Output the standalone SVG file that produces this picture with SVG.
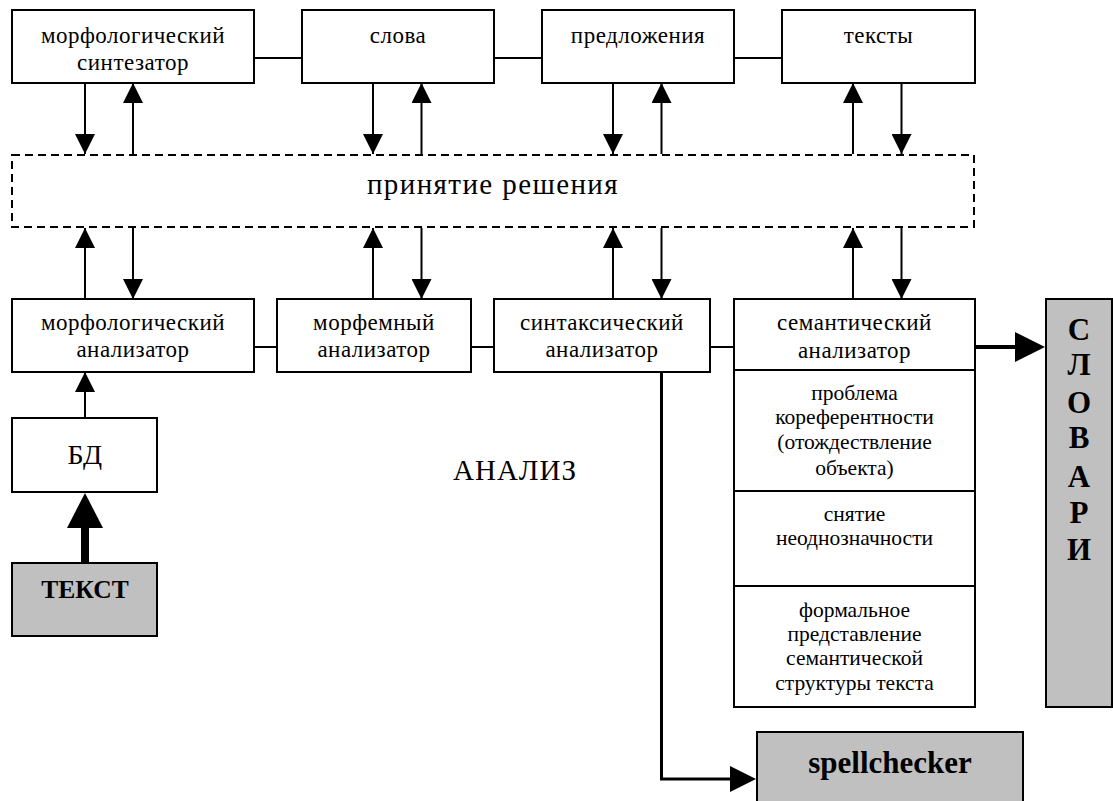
<svg xmlns="http://www.w3.org/2000/svg" width="1113" height="801" viewBox="0 0 1113 801">
<style>
.box{fill:#fff;stroke:#000;stroke-width:2}
.gray{fill:#c0c0c0;stroke:#000;stroke-width:2}
.dash{fill:none;stroke:#000;stroke-width:2;stroke-dasharray:8 5}
text{font-family:"Liberation Serif","Times New Roman",serif;fill:#000}
.t{font-size:23px;letter-spacing:0.5px;text-anchor:middle}
.s{font-size:21.5px;text-anchor:middle}
.b{font-weight:700;text-anchor:middle}
.v{font-weight:700;text-anchor:middle;font-size:31px}
.ln{stroke:#000;stroke-width:2;fill:none}
.ar{stroke:#000;stroke-width:2;fill:none;marker-end:url(#ah)}
</style>
<defs>
<marker id="ah" markerUnits="userSpaceOnUse" markerWidth="20" markerHeight="20" refX="20" refY="10" orient="auto"><path d="M0,0 L20,10 L0,20 z" fill="#000"/></marker>
<marker id="ahBig" markerUnits="userSpaceOnUse" markerWidth="36" markerHeight="36" refX="1" refY="18" orient="auto"><path d="M0,0 L35,18 L0,36 z" fill="#000"/></marker>
<marker id="ahMid" markerUnits="userSpaceOnUse" markerWidth="31" markerHeight="30" refX="1" refY="15" orient="auto"><path d="M0,0 L30,15 L0,30 z" fill="#000"/></marker>
<marker id="ahSm" markerUnits="userSpaceOnUse" markerWidth="27" markerHeight="26" refX="1" refY="13" orient="auto"><path d="M0,0 L26,13 L0,26 z" fill="#000"/></marker>
</defs>

<g id="connectors">
<line class="ln" x1="254" y1="58" x2="302" y2="58"/>
<line class="ln" x1="494" y1="58" x2="542" y2="58"/>
<line class="ln" x1="734" y1="58" x2="782" y2="58"/>
<line class="ln" x1="254" y1="347" x2="277" y2="347"/>
<line class="ln" x1="471" y1="347" x2="494" y2="347"/>
<line class="ln" x1="710" y1="347" x2="734" y2="347"/>
<line class="ar" x1="85" y1="83" x2="85" y2="154"/>
<line class="ar" x1="133" y1="154" x2="133" y2="83"/>
<line class="ar" x1="373" y1="83" x2="373" y2="154"/>
<line class="ar" x1="421.5" y1="154" x2="421.5" y2="83"/>
<line class="ar" x1="613" y1="83" x2="613" y2="154"/>
<line class="ar" x1="661.5" y1="154" x2="661.5" y2="83"/>
<line class="ar" x1="853" y1="154" x2="853" y2="83"/>
<line class="ar" x1="901.5" y1="83" x2="901.5" y2="154"/>
<line class="ar" x1="85" y1="299" x2="85" y2="228"/>
<line class="ar" x1="133" y1="228" x2="133" y2="299"/>
<line class="ar" x1="373" y1="299" x2="373" y2="228"/>
<line class="ar" x1="421.5" y1="228" x2="421.5" y2="299"/>
<line class="ar" x1="613" y1="299" x2="613" y2="228"/>
<line class="ar" x1="661.5" y1="228" x2="661.5" y2="299"/>
<line class="ar" x1="853" y1="299" x2="853" y2="228"/>
<line class="ar" x1="901.5" y1="228" x2="901.5" y2="299"/>
<line class="ar" x1="85" y1="418" x2="85" y2="372"/>
<line x1="85" y1="563" x2="85" y2="527" stroke="#000" stroke-width="8" marker-end="url(#ahBig)"/>
<line x1="975" y1="347" x2="1016" y2="347" stroke="#000" stroke-width="4" marker-end="url(#ahMid)"/>
<path d="M661.5,372 V779 H731" fill="none" stroke="#000" stroke-width="3" marker-end="url(#ahSm)"/>
</g>

<g id="morph-synth"><rect class="box" x="12" y="10" width="242" height="73"/>
<text class="t" x="133" y="43">морфологический</text><text class="t" x="133" y="70">синтезатор</text></g>
<g id="words"><rect class="box" x="302" y="10" width="192" height="73"/>
<text class="t" x="398" y="43">слова</text></g>
<g id="sentences"><rect class="box" x="542" y="10" width="192" height="73"/>
<text class="t" x="638" y="43">предложения</text></g>
<g id="texts"><rect class="box" x="782" y="10" width="193" height="73"/>
<text class="t" x="878.5" y="43">тексты</text></g>

<g id="decision"><rect class="dash" x="12" y="155" width="962" height="72"/>
<text class="t" x="493" y="194" style="font-size:29px;letter-spacing:1.4px">принятие решения</text></g>

<g id="morph-analyzer"><rect class="box" x="12" y="299" width="242" height="73"/>
<text class="t" x="133" y="330">морфологический</text><text class="t" x="133" y="357">анализатор</text></g>
<g id="morpheme-analyzer"><rect class="box" x="277" y="299" width="194" height="73"/>
<text class="t" x="374" y="330">морфемный</text><text class="t" x="374" y="357">анализатор</text></g>
<g id="syntax-analyzer"><rect class="box" x="494" y="299" width="216" height="73"/>
<text class="t" x="602" y="330">синтаксический</text><text class="t" x="602" y="357">анализатор</text></g>

<g id="semantic-analyzer">
<rect class="box" x="734" y="299" width="241" height="408"/>
<line class="ln" x1="734" y1="370" x2="975" y2="370"/>
<line class="ln" x1="734" y1="491" x2="975" y2="491"/>
<line class="ln" x1="734" y1="586" x2="975" y2="586"/>
<text class="t" x="854.5" y="330">семантический</text><text class="t" x="854.5" y="358">анализатор</text>
<text class="s" x="854.5" y="400">проблема</text>
<text class="s" x="854.5" y="424">кореферентности</text>
<text class="s" x="854.5" y="449">(отождествление</text>
<text class="s" x="854.5" y="475">объекта)</text>
<text class="s" x="854.5" y="521">снятие</text>
<text class="s" x="854.5" y="545">неоднозначности</text>
<text class="s" x="854.5" y="617">формальное</text>
<text class="s" x="854.5" y="641">представление</text>
<text class="s" x="854.5" y="665">семантической</text>
<text class="s" x="854.5" y="690">структуры текста</text>
</g>

<g id="db"><rect class="box" x="12" y="418" width="145" height="74"/>
<text class="t" x="85" y="464" style="font-size:28px">БД</text></g>
<g id="text-input"><rect class="gray" x="12" y="563" width="145" height="73"/>
<text class="b" x="85" y="598" style="font-size:25.5px">ТЕКСТ</text></g>

<g id="dictionaries"><rect class="gray" x="1046" y="299" width="66" height="408"/>
<text class="v" x="1079" y="340">С</text>
<text class="v" x="1079" y="375">Л</text>
<text class="v" x="1079" y="413">О</text>
<text class="v" x="1079" y="448">В</text>
<text class="v" x="1079" y="487">А</text>
<text class="v" x="1079" y="523">Р</text>
<text class="v" x="1079" y="560">И</text>
</g>

<g id="spellchecker"><rect class="gray" x="757" y="732" width="266" height="75"/>
<text class="b" x="890" y="773" style="font-size:31px">spellchecker</text></g>

<g id="analysis-label"><text x="453" y="480" style="font-size:29px;letter-spacing:1px">АНАЛИЗ</text></g>
</svg>
